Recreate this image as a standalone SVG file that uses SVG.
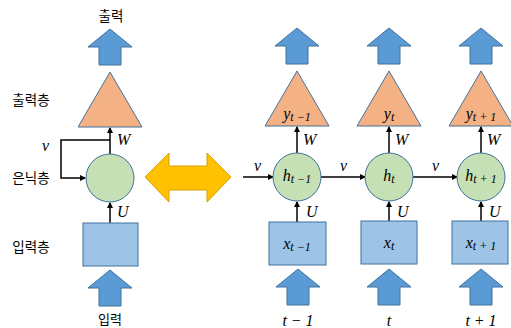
<svg xmlns="http://www.w3.org/2000/svg" width="511" height="328" viewBox="0 0 511 328">
<style>
.ar{fill:#5B9BD5;stroke:#41719C;stroke-width:1}
.tri{fill:#F4B183;stroke:#41719C;stroke-width:1}
.cir{fill:#C5E0B4;stroke:#41719C;stroke-width:1}
.box{fill:#9DC3E6;stroke:#41719C;stroke-width:1}
.ln{fill:none;stroke:#000;stroke-width:1.5}
.kr{font-family:"Noto Sans CJK KR","Noto Sans",sans-serif;font-size:13.5px;fill:#000;text-anchor:middle}
.m{font-family:"Liberation Serif",serif;font-style:italic;font-size:16px;fill:#000}
.mc{font-family:"Liberation Serif",serif;font-style:italic;font-size:16px;fill:#000;text-anchor:middle}
.sub{font-size:12px}
</style>
<defs>
<path id="up" d="M0,0 L22,18 L11,18 L11,36 L-11,36 L-11,18 L-22,18 Z"/>
<marker id="ah" markerWidth="6" markerHeight="6" refX="5" refY="3" orient="auto" markerUnits="userSpaceOnUse">
<path d="M0,0 L6,3 L0,6 Z" fill="#000"/>
</marker>
</defs>

<g id="connectors">
<line class="ln" x1="110" y1="154" x2="110" y2="128" marker-end="url(#ah)"/>
<path class="ln" d="M110,140 H61 V178 H85" marker-end="url(#ah)"/>
<line class="ln" x1="110" y1="223" x2="110" y2="203" marker-end="url(#ah)"/>
<line class="ln" x1="297" y1="153" x2="297" y2="127" marker-end="url(#ah)"/>
<line class="ln" x1="389" y1="153" x2="389" y2="127" marker-end="url(#ah)"/>
<line class="ln" x1="481" y1="153" x2="481" y2="127" marker-end="url(#ah)"/>
<line class="ln" x1="243" y1="177" x2="273" y2="177" marker-end="url(#ah)"/>
<line class="ln" x1="321" y1="177" x2="365" y2="177" marker-end="url(#ah)"/>
<line class="ln" x1="413" y1="177" x2="457" y2="177" marker-end="url(#ah)"/>
<line class="ln" x1="297" y1="222" x2="297" y2="202" marker-end="url(#ah)"/>
<line class="ln" x1="389" y1="221" x2="389" y2="202" marker-end="url(#ah)"/>
<line class="ln" x1="481" y1="221" x2="481" y2="202" marker-end="url(#ah)"/>
<text class="m" x="117" y="145">W</text>
<text class="m" x="42" y="151">v</text>
<text class="m" x="117" y="217">U</text>
<text class="m" x="303" y="145">W</text>
<text class="m" x="395" y="145">W</text>
<text class="m" x="487" y="145">W</text>
<text class="m" x="254" y="171">v</text>
<text class="m" x="340" y="171">v</text>
<text class="m" x="432" y="171">v</text>
<text class="m" x="306" y="217">U</text>
<text class="m" x="397" y="217">U</text>
<text class="m" x="489" y="217">U</text>
</g>

<g id="left-output-label"><text class="kr" x="111" y="21">출력</text></g>
<g id="left-output-arrow"><use href="#up" class="ar" transform="translate(110,29)"/></g>
<g id="left-output-layer"><polygon class="tri" points="110,72 142,127 78,127"/></g>
<g id="label-output-layer"><text class="kr" x="31" y="105">출력층</text></g>
<g id="label-hidden-layer"><text class="kr" x="31" y="183">은닉층</text></g>
<g id="label-input-layer"><text class="kr" x="31" y="252">입력층</text></g>
<g id="left-hidden"><circle class="cir" cx="110" cy="178" r="24"/></g>
<g id="left-input"><rect class="box" x="83" y="223" width="55" height="43"/></g>
<g id="left-input-arrow"><use href="#up" class="ar" transform="translate(110,270)"/></g>
<g id="left-input-label"><text class="kr" x="110" y="324" style="font-size:13px">입력</text></g>

<g id="double-arrow"><path d="M145,177 L169,153 L169,166 L207,166 L207,153 L231,177 L207,202 L207,190 L169,190 L169,202 Z" fill="#FFC000" stroke="#D6A300" stroke-width="1"/></g>

<g id="out-arrow-1"><use href="#up" class="ar" transform="translate(297,28)"/></g>
<g id="out-arrow-2"><use href="#up" class="ar" transform="translate(389,28)"/></g>
<g id="out-arrow-3"><use href="#up" class="ar" transform="translate(481,28)"/></g>

<g id="y1"><polygon class="tri" points="297,71 329,126 265,126"/><text class="mc" x="297" y="119">y<tspan class="sub" dy="2">t −1</tspan></text></g>
<g id="y2"><polygon class="tri" points="389,71 421,126 357,126"/><text class="mc" x="389" y="119">y<tspan class="sub" dy="2">t</tspan></text></g>
<g id="y3"><polygon class="tri" points="481,71 513,126 449,126"/><text class="mc" x="481" y="119">y<tspan class="sub" dy="2">t + 1</tspan></text></g>

<g id="h1"><circle class="cir" cx="297" cy="177" r="24"/><text class="mc" x="297" y="181">h<tspan class="sub" dy="2">t −1</tspan></text></g>
<g id="h2"><circle class="cir" cx="389" cy="177" r="24"/><text class="mc" x="389" y="181">h<tspan class="sub" dy="2">t</tspan></text></g>
<g id="h3"><circle class="cir" cx="481" cy="177" r="24"/><text class="mc" x="481" y="181">h<tspan class="sub" dy="2">t + 1</tspan></text></g>

<g id="x1"><rect class="box" x="269" y="222" width="57" height="43"/><text class="mc" x="297" y="249">x<tspan class="sub" dy="2">t −1</tspan></text></g>
<g id="x2"><rect class="box" x="361" y="221" width="56" height="43"/><text class="mc" x="389" y="248">x<tspan class="sub" dy="2">t</tspan></text></g>
<g id="x3"><rect class="box" x="452" y="221" width="56" height="43"/><text class="mc" x="481" y="248">x<tspan class="sub" dy="2">t + 1</tspan></text></g>

<g id="in-arrow-1"><use href="#up" class="ar" transform="translate(298,269)"/></g>
<g id="in-arrow-2"><use href="#up" class="ar" transform="translate(389,269)"/></g>
<g id="in-arrow-3"><use href="#up" class="ar" transform="translate(481,269)"/></g>

<g id="t-labels">
<text class="mc" x="298" y="326">t  − 1</text>
<text class="mc" x="389" y="326">t</text>
<text class="mc" x="481" y="326">t + 1</text>
</g>
</svg>
